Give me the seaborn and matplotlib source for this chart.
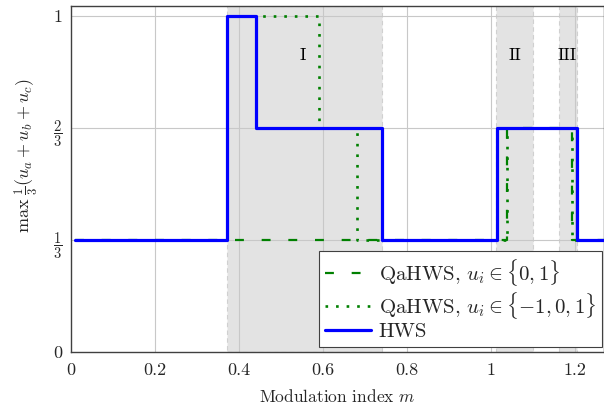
import matplotlib
matplotlib.use("Agg")
import matplotlib.pyplot as plt
import seaborn as sns
import numpy as np

# ---- data ----
hws_x = [0.01, 0.371, 0.44, 0.74, 1.014, 1.205, 1.27]
hws_y = [1/3, 1, 2/3, 1/3, 2/3, 1/3, 1/3]
qa3_x = [0.01, 0.371, 0.59, 0.681, 1.04, 1.193, 1.27]
qa3_y = [1/3, 1, 2/3, 1/3, 2/3, 1/3, 1/3]
qa2_x = [0.01, 1.04, 1.193, 1.27]
qa2_y = [1/3, 2/3, 1/3, 1/3]
regions = [(0.371, 0.740), (1.012, 1.102), (1.162, 1.205)]
region_labels = ["I", "II", "III"]
region_label_x = [0.552, 1.057, 1.181]
xticks = [0, 0.2, 0.4, 0.6, 0.8, 1.0, 1.2]
xticklabels = ["0", "0.2", "0.4", "0.6", "0.8", "1", "1.2"]
yticks = [0, 1/3, 2/3, 1]
yticklabels = ["0", r"$\dfrac{1}{3}$", r"$\dfrac{2}{3}$", "1"]

sns.set_theme(style="white")
plt.rcParams["font.family"] = ["cmr10", "DejaVu Serif"]
plt.rcParams["mathtext.fontset"] = "cm"
plt.rcParams["axes.unicode_minus"] = False
plt.rcParams["axes.formatter.use_mathtext"] = True

fig = plt.figure(figsize=(6.04, 4.15), dpi=100)
ax = fig.add_axes([0.1175, 0.152, 0.8825, 0.8335])

for (a, b) in regions:
    ax.axvspan(a, b, facecolor="#e3e3e3", edgecolor="#d0d0d0",
               linestyle=(0, (4, 3)), linewidth=0.8, zorder=0)

for xv in xticks[1:]:
    ax.axvline(xv, color="#c8c8c8", lw=0.8, zorder=0.5)
for yv in yticks[1:]:
    ax.axhline(yv, color="#c8c8c8", lw=0.8, zorder=0.5)

green = "#008000"
sns.lineplot(x=qa2_x, y=qa2_y, ax=ax, drawstyle="steps-post", color=green,
             lw=1.6, linestyle=(0, (4, 8)), estimator=None, sort=False,
             label=r"QaHWS, $u_i \in \{0, 1\}$", zorder=3)
sns.lineplot(x=qa3_x, y=qa3_y, ax=ax, drawstyle="steps-post", color=green,
             lw=1.9, linestyle=(0, (1, 3)), estimator=None, sort=False,
             label=r"QaHWS, $u_i \in \{-1, 0, 1\}$", zorder=3)
sns.lineplot(x=hws_x, y=hws_y, ax=ax, drawstyle="steps-post", color="#0000ff",
             lw=2.3, estimator=None, sort=False, label="HWS", zorder=4)

for lab, xv in zip(region_labels, region_label_x):
    ax.text(xv, 0.884, lab, ha="center", va="center", fontsize=13, color="black")

ax.set_xlim(0, 1.27)
ax.set_ylim(0, 1.03)
ax.set_xticks(xticks)
ax.set_xticklabels(xticklabels)
ax.set_yticks(yticks)
ax.set_yticklabels(yticklabels)
ax.tick_params(axis="x", direction="in", length=4, color="#808080",
               labelsize=13, pad=8)
ax.tick_params(axis="y", direction="in", length=4, color="#808080",
               labelsize=13, pad=6)
for lbl in ax.get_yticklabels()[1:3]:
    lbl.set_fontsize(10.5)
for s in ax.spines.values():
    s.set_color("#404040")
    s.set_linewidth(1.0)

ax.set_xlabel(r"Modulation index $m$", fontsize=12.5, labelpad=7)
ax.set_ylabel(r"$\max\ \frac{1}{3}(u_a + u_b + u_c)$", fontsize=13, labelpad=6)
ax.yaxis.set_label_coords(-0.058, 0.566)

leg = ax.legend(loc="lower right", bbox_to_anchor=(0.997, 0.014),
                borderaxespad=0, fancybox=False, framealpha=1,
                edgecolor="#404040", fontsize=15, handlelength=2.2,
                handletextpad=0.35, labelspacing=0.08, borderpad=0.3)
leg.get_frame().set_linewidth(0.8)

fig.savefig("out.png", dpi=100)
